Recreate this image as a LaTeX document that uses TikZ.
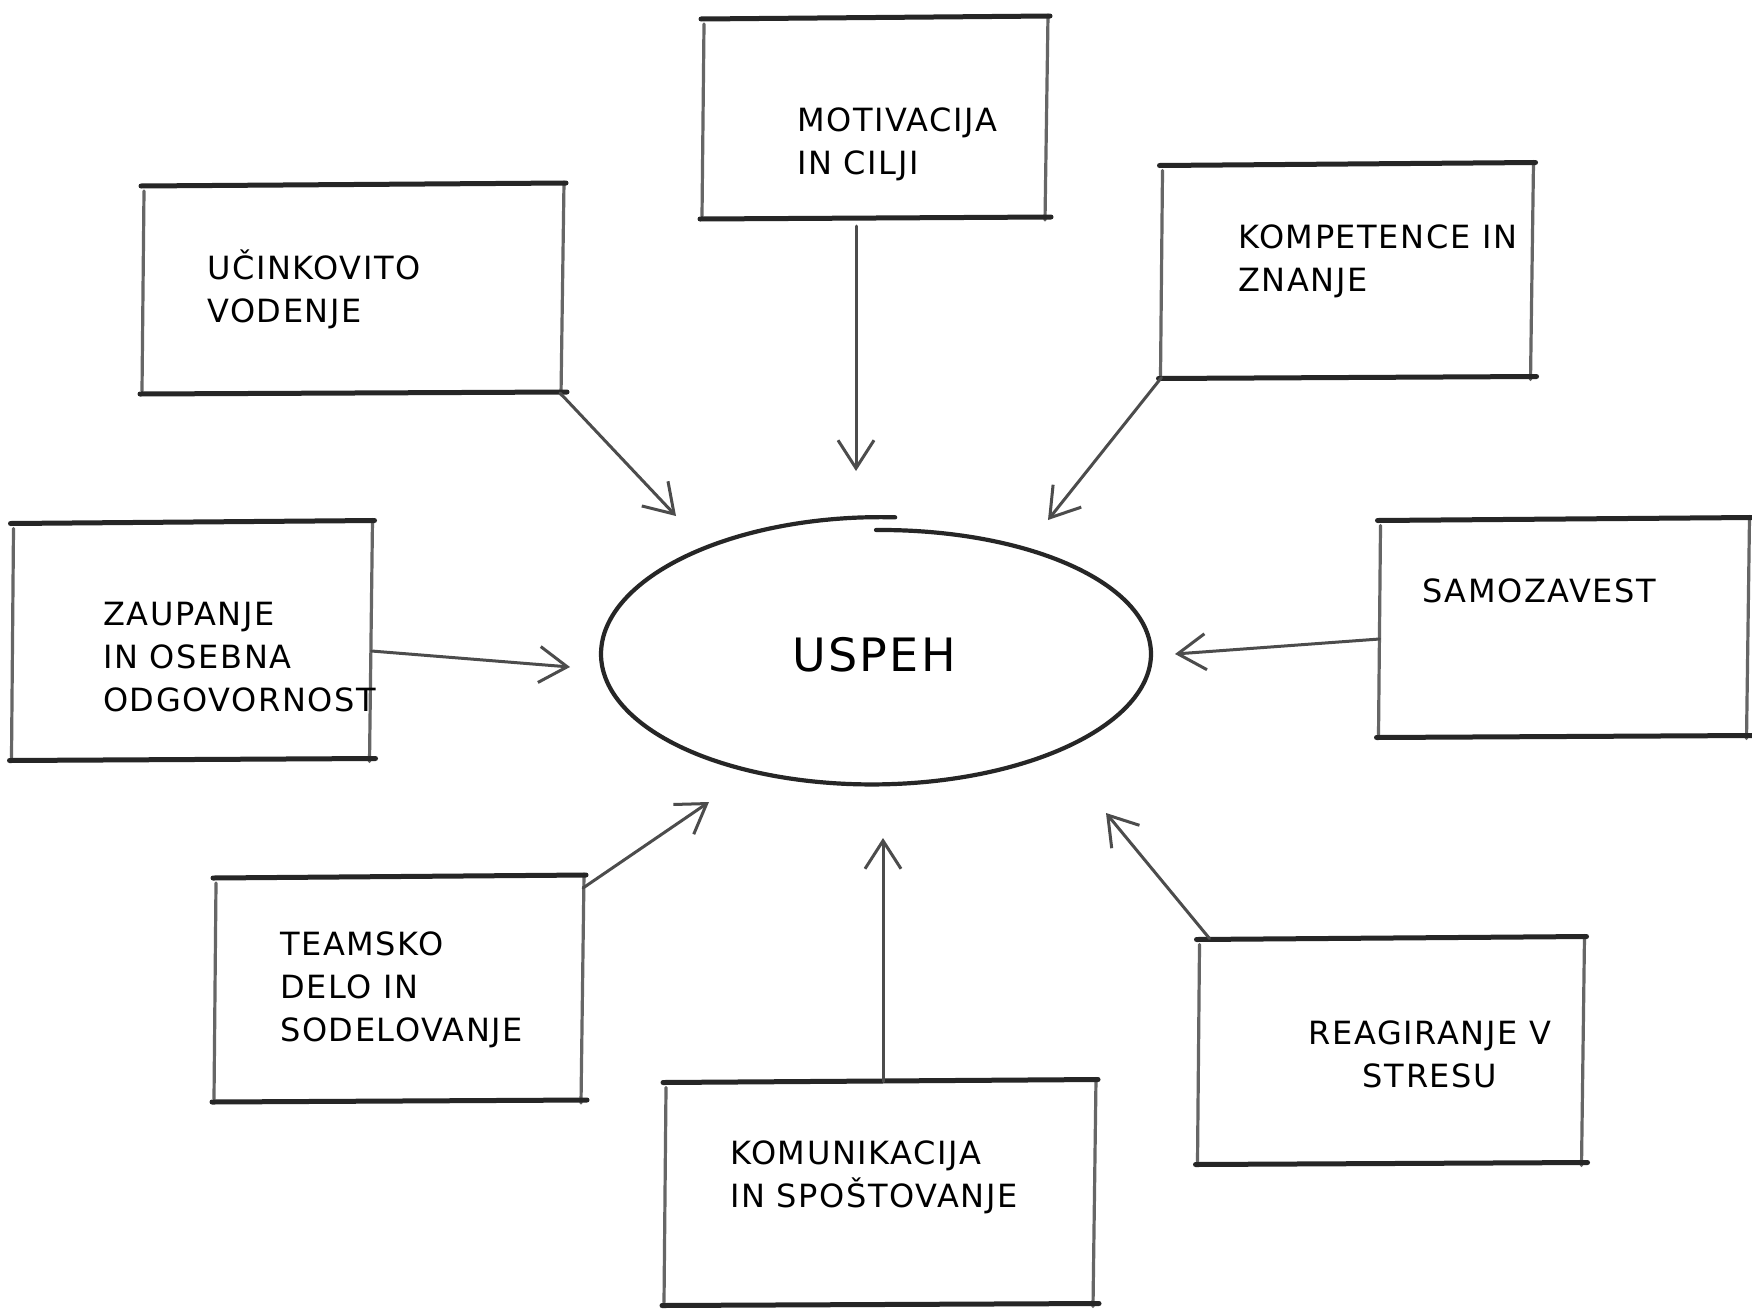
\documentclass[tikz,border=0pt]{standalone}
\usepackage{fontspec}
\setmainfont{DejaVu Sans}[LetterSpace=5]
\usetikzlibrary{arrows.meta,calc,shapes.geometric}
\newcommand\skbox[1]{%
  \draw[vb] ([xshift=1pt,yshift=-6pt]#1.north west) -- ([xshift=-1pt,yshift=2pt]#1.south west);
  \draw[vb] ([xshift=1pt,yshift=3pt]#1.north east) -- ([xshift=-2pt,yshift=-2pt]#1.south east);
  \draw[hb] ([xshift=-2pt,yshift=-1pt]#1.north west) -- ([xshift=3pt,yshift=2pt]#1.north east);
  \draw[hb] ([xshift=4pt,yshift=1pt]#1.south east) -- ([xshift=-3pt,yshift=-1pt]#1.south west);
}
\begin{document}
\begin{tikzpicture}[x=1pt,y=-1pt,
  hb/.style={line width=5pt,black!85,line cap=round},
  vb/.style={line width=3.2pt,black!60,line cap=round},
  boxn/.style={draw=none,rectangle,inner sep=0pt,outer sep=0pt},
  lab/.style={anchor=west,align=left,inner sep=0pt,font=\fontsize{32}{43}\selectfont},
  arr/.style={line width=3pt,black!70,line cap=round,-{Straight Barb[length=28pt,width=36pt]}},
  ell/.style={line width=4.2pt,black!85,line cap=round}]
\fill[white] (0,0) rectangle (1752,1309);
\useasboundingbox (0,0) rectangle (1752,1309);

% boxes
\node[boxn,minimum width=344pt,minimum height=200pt] (mot) at (875,118) {};
\node[boxn,minimum width=420pt,minimum height=208pt] (ucin) at (353,289) {};
\node[boxn,minimum width=371pt,minimum height=213pt] (komp) at (1347,271) {};
\node[boxn,minimum width=359pt,minimum height=237pt] (zau) at (192,641) {};
\node[boxn,minimum width=369pt,minimum height=217pt] (sam) at (1564,628) {};
\node[boxn,minimum width=368pt,minimum height=224pt] (team) at (399,989) {};
\node[boxn,minimum width=430pt,minimum height=223pt] (kom) at (880,1193) {};
\node[boxn,minimum width=385pt,minimum height=225pt] (rea) at (1391,1051) {};
\foreach \b in {mot,ucin,komp,zau,sam,team,kom,rea}{\skbox{\b}}

% labels
\node[lab] (mot-t) at (797,144) {MOTIVACIJA\\IN CILJI};
\node[lab] (ucin-t) at (207,289) {UČINKOVITO\\VODENJE};
\node[lab] (komp-t) at (1238,261) {KOMPETENCE IN\\ZNANJE};
\node[lab] (zau-t) at (103,657) {ZAUPANJE\\IN OSEBNA\\ODGOVORNOST};
\node[lab] (sam-t) at (1422,591) {SAMOZAVEST};
\node[lab] (team-t) at (280,990) {TEAMSKO\\DELO IN\\SODELOVANJE};
\node[lab] (kom-t) at (730,1177) {KOMUNIKACIJA\\IN SPOŠTOVANJE};
\node[lab,anchor=center,align=center] (rea-t) at (1430,1054) {REAGIRANJE V\\STRESU};

% central ellipse
\node[draw=none,ellipse,minimum width=550pt,minimum height=270pt,inner sep=0pt,
      font=\fontsize{46}{56}\selectfont] (usp) at (874,655) {USPEH};
\draw[ell] plot[domain=86:450,samples=140,smooth]
  ({876+275*cos(\x)},{654-(137-13*(\x-86)/364)*sin(\x)});

% arrow tips
\coordinate (tmot) at (856,471);
\coordinate (tuc) at (676,516);
\coordinate (tko) at (1048,520);
\coordinate (tza) at (570,667);
\coordinate (tsa) at (1175,654);
\coordinate (tte) at (709,802);
\coordinate (tkm) at (883,838);
\coordinate (tre) at (1106,813);

\draw[arr] ([yshift=-8pt]tmot |- mot.south) -- (tmot);
\draw[arr] ([xshift=-3pt]ucin.south east) -- (tuc);
\draw[arr] (komp.south west) -- (tko);
\draw[arr] ([yshift=-10pt]zau.east) -- (tza);
\draw[arr] ([yshift=-11pt]sam.west) -- (tsa);
\draw[arr] ([yshift=-11pt]team.north east) -- (tte);
\draw[arr] (tkm |- kom.north) -- (tkm);
\draw[arr] ([xshift=11pt]rea.north west) -- (tre);
\end{tikzpicture}
\end{document}
